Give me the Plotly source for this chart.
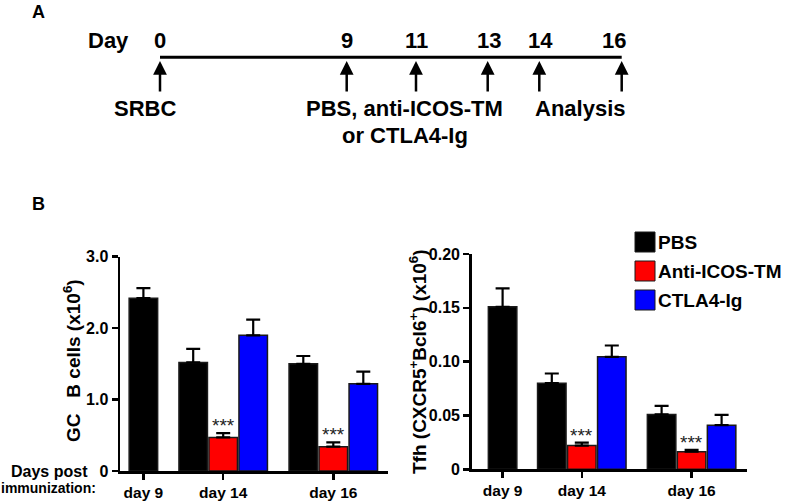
import plotly.graph_objects as go

W, H = 787, 501
FONT = "Liberation Sans, Arial, sans-serif"

# ---------------- data ----------------
days = ["day 9", "day 14", "day 16"]
treatments = ["PBS", "Anti-ICOS-TM", "CTLA4-Ig"]
colors = ["#000000", "#ff0000", "#0000ff"]

gc_mean = {
    "PBS": [2.42, 1.52, 1.50],
    "Anti-ICOS-TM": [None, 0.47, 0.34],
    "CTLA4-Ig": [None, 1.90, 1.22],
}
gc_err = {
    "PBS": [0.14, 0.19, 0.11],
    "Anti-ICOS-TM": [0, 0.06, 0.06],
    "CTLA4-Ig": [0, 0.22, 0.17],
}
tfh_mean = {
    "PBS": [0.151, 0.080, 0.051],
    "Anti-ICOS-TM": [None, 0.022, 0.0163],
    "CTLA4-Ig": [None, 0.1045, 0.041],
}
tfh_err = {
    "PBS": [0.017, 0.009, 0.008],
    "Anti-ICOS-TM": [0, 0.0027, 0.0017],
    "CTLA4-Ig": [0, 0.0105, 0.0096],
}
signif = {"Anti-ICOS-TM": [None, "***", "***"]}

gc_ticks = [0, 1.0, 2.0, 3.0]
gc_ticktext = ["0", "1.0", "2.0", "3.0"]
tfh_ticks = [0, 0.05, 0.10, 0.15, 0.20]
tfh_ticktext = ["0", "0.05", "0.10", "0.15", "0.20"]

timeline_days = ["0", "9", "11", "13", "14", "16"]
timeline_events = ["SRBC", "PBS, anti-ICOS-TM", "or CTLA4-Ig", "Analysis"]

# ---------------- layout helpers (pixel -> paper) ----------------
def px(x):
    return x / W

def py(y):
    return 1 - y / H

# group centres on each x axis (units of one bar slot = 30 px)
left_centres = [0.78, 3.44, 7.11]
right_centres = [1.03, 3.67, 7.33]
offsets = {"PBS": -1, "Anti-ICOS-TM": 0, "CTLA4-Ig": 1}

fig = go.Figure()

def add_panel(means, errs, centres, xa, ya):
    for t, c in zip(treatments, colors):
        xs, ys, es = [], [], []
        for i, v in enumerate(means[t]):
            if v is None:
                continue
            off = 0 if i == 0 else offsets[t]
            xs.append(centres[i] + off)
            ys.append(v)
            es.append(errs[t][i])
        fig.add_trace(go.Bar(
            x=xs, y=ys, width=0.95, xaxis=xa, yaxis=ya,
            marker=dict(color=c, line=dict(color="#1a1a1a", width=1.5)),
            error_y=dict(type="data", symmetric=False, array=es,
                         arrayminus=[0] * len(es), color="#000000",
                         thickness=2.2, width=7),
            showlegend=False, hoverinfo="skip",
        ))
        if t in signif:
            for i, s in enumerate(signif[t]):
                if s is None:
                    continue
                fig.add_annotation(
                    x=centres[i] + offsets[t], y=means[t][i] + errs[t][i],
                    xref=xa, yref=ya.replace("axis", ""), text=s,
                    showarrow=False, yanchor="bottom", yshift=-5,
                    font=dict(family=FONT, size=19, color="#222222"))

add_panel(gc_mean, gc_err, left_centres, "x", "y")
add_panel(tfh_mean, tfh_err, right_centres, "x2", "y2")

axis_common = dict(showline=True, linecolor="black", linewidth=2.5,
                   ticks="outside", ticklen=6, tickwidth=2.5, tickcolor="black",
                   showgrid=False, zeroline=False, automargin=False, fixedrange=True)
xfont = dict(family=FONT, size=15.5, color="black", weight="bold")
yfont = dict(family=FONT, size=16, color="black", weight="bold")

fig.update_layout(
    template="none",
    width=W, height=H,
    margin=dict(l=0, r=0, t=0, b=0, pad=0),
    paper_bgcolor="white", plot_bgcolor="white",
    barmode="overlay",
    xaxis=dict(domain=[px(120), px(388.3)], range=[0, 268.3 / 30],
               tickvals=left_centres, ticktext=days, anchor="y",
               tickfont=xfont, **axis_common),
    yaxis=dict(domain=[py(471), py(256.7)], range=[0, 3.0],
               tickvals=gc_ticks, ticktext=gc_ticktext, anchor="x",
               tickfont=yfont, **axis_common),
    xaxis2=dict(domain=[px(471.7), px(747.3)], range=[0, 275.6 / 30],
                tickvals=right_centres, ticktext=days, anchor="y2",
                tickfont=xfont, **axis_common),
    yaxis2=dict(domain=[py(469.3), py(254)], range=[0, 0.20],
                tickvals=tfh_ticks, ticktext=tfh_ticktext, anchor="x2",
                tickfont=yfont, **axis_common),
)

def text(x, y, s, size, xanchor="center", angle=0, align="center"):
    fig.add_annotation(x=px(x), y=py(y), xref="paper", yref="paper", text=s,
                       showarrow=False, xanchor=xanchor, yanchor="middle",
                       textangle=angle, align=align,
                       font=dict(family=FONT, size=size, color="black", weight="bold"))

# axis titles
text(72, 361, "GC\u00a0\u00a0\u00a0B cells (x10<sup>6</sup>)", 19, angle=-90)
text(418, 361, "Tfh (CXCR5<sup>+</sup>Bcl6<sup>+</sup>) (x10<sup>6</sup>)", 19, angle=-90)
text(90, 471, "Days post", 16, xanchor="right")
text(98, 488, "immunization:", 14, xanchor="right")

# panel letters
text(38, 12, "A", 18)
text(38, 204, "B", 18)

# legend (manual)
leg_y = [242, 271, 300]
for t, c, yy in zip(treatments, colors, leg_y):
    fig.add_shape(type="rect", xref="paper", yref="paper",
                  x0=px(635), x1=px(655), y0=py(yy + 10), y1=py(yy - 10),
                  fillcolor=c, line=dict(color="#1a1a1a", width=1))
    text(656, yy, t, 19, xanchor="left")

# ---------------- timeline (panel A) ----------------
arrow_x = [160, 346.7, 416, 487.7, 539.3, 621.7]
num_x = [160, 346.7, 416, 489, 540, 614]
fig.add_shape(type="line", xref="paper", yref="paper",
              x0=px(arrow_x[0]), x1=px(arrow_x[-1]), y0=py(57.3), y1=py(57.3),
              line=dict(color="black", width=3))
text(108, 41, "Day", 22)
for d, xx in zip(timeline_days, num_x):
    text(xx, 41, d, 22)
for xx in arrow_x:
    fig.add_annotation(x=px(xx), y=py(61), xref="paper", yref="paper",
                       ax=0, ay=32, axref="pixel", ayref="pixel",
                       text="", showarrow=True, arrowhead=2, arrowsize=1.1,
                       arrowwidth=2.5, arrowcolor="black", standoff=0)
text(144.5, 109, timeline_events[0], 22)
text(404.5, 109, timeline_events[1], 22)
text(404.5, 135, timeline_events[2], 22)
text(580, 109, timeline_events[3], 22)

fig.write_html("out.html", config={"displayModeBar": False, "staticPlot": True},
               post_script="document.body.style.margin='0';document.body.style.padding='0';")
